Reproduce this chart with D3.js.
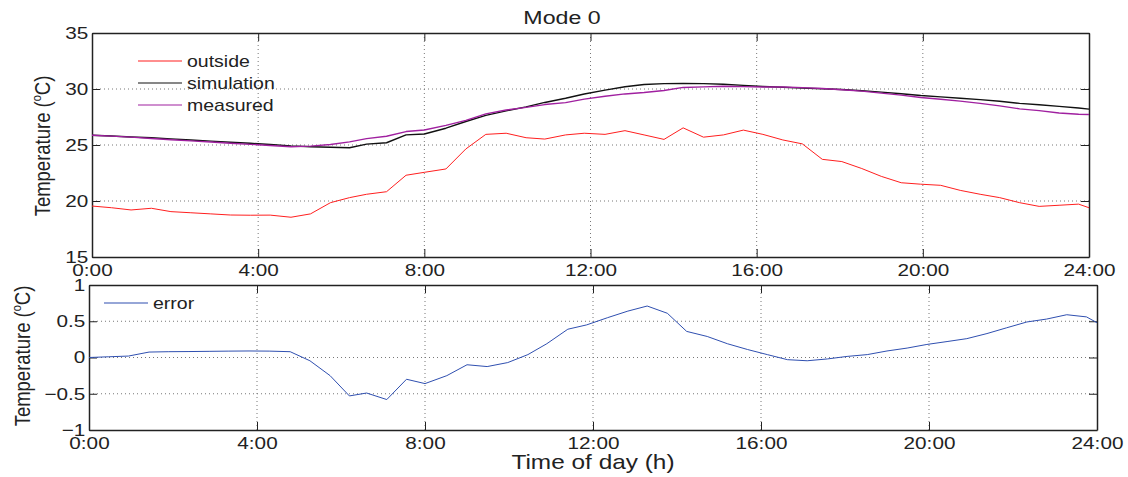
<!DOCTYPE html>
<html>
<head>
<meta charset="utf-8">
<style>
  body { margin: 0; background: #fff; }
  svg { font-family: "Liberation Sans", Arial, sans-serif; }
</style>
</head>
<body>
<svg width="1128" height="477"></svg>
<script src="https://d3js.org/d3.v7.min.js"></script>
<script>

// time of day (h) of each sample
var times = [0, 0.47, 0.94, 1.43, 1.9, 2.38, 2.86, 3.33, 3.81, 4.29,
             4.79, 5.26, 5.74, 6.2, 6.61, 7.09, 7.56, 8.0, 8.52, 9.0,
             9.48, 9.97, 10.45, 10.9, 11.4, 11.85, 12.35, 12.83, 13.29, 13.77,
             14.23, 14.72, 15.2, 15.68, 16.15, 16.63, 17.1, 17.58, 18.05, 18.53,
             19.0, 19.48, 19.95, 20.43, 20.9, 21.38, 21.85, 22.33, 22.8, 23.28,
             23.75, 24.0];

var outside = [19.55, 19.4, 19.2, 19.35, 19.05, 18.95, 18.85, 18.75, 18.73, 18.74,
               18.55, 18.85, 19.85, 20.3, 20.6, 20.83, 22.3, 22.56, 22.86, 24.65,
               25.95, 26.05, 25.65, 25.53, 25.9, 26.05, 25.95, 26.28, 25.9, 25.5,
               26.53, 25.7, 25.9, 26.33, 25.95, 25.45, 25.1, 23.72, 23.52, 22.9,
               22.2, 21.63, 21.5, 21.4, 20.95, 20.6, 20.3, 19.85, 19.52, 19.62,
               19.72, 19.4];

var simulation = [25.87, 25.8, 25.72, 25.65, 25.55, 25.45, 25.35, 25.25, 25.15, 25.05,
                  24.92, 24.85, 24.8, 24.75, 25.08, 25.2, 25.9, 25.98, 26.5, 27.1,
                  27.65, 28.05, 28.4, 28.8, 29.17, 29.55, 29.9, 30.2, 30.4, 30.48,
                  30.5, 30.48, 30.43, 30.32, 30.22, 30.15, 30.08, 30.02, 29.95, 29.85,
                  29.72, 29.58, 29.42, 29.3, 29.18, 29.05, 28.9, 28.72, 28.6, 28.45,
                  28.3, 28.2];

var measured = [25.87, 25.79, 25.7, 25.58, 25.47, 25.37, 25.27, 25.16, 25.06, 24.96,
                24.84, 24.9, 25.05, 25.28, 25.57, 25.78, 26.2, 26.34, 26.75, 27.2,
                27.78, 28.12, 28.36, 28.61, 28.78, 29.1, 29.35, 29.56, 29.69, 29.87,
                30.14, 30.19, 30.24, 30.21, 30.18, 30.18, 30.12, 30.04, 29.93, 29.81,
                29.63, 29.45, 29.24, 29.08, 28.92, 28.72, 28.49, 28.23, 28.07, 27.86,
                27.74, 27.72];

var error = [0.0, 0.01, 0.02, 0.075, 0.08, 0.082, 0.085, 0.088, 0.09, 0.088,
             0.08, -0.045, -0.25, -0.53, -0.49, -0.58, -0.3, -0.36, -0.25, -0.1,
             -0.125, -0.07, 0.04, 0.19, 0.39, 0.45, 0.55, 0.64, 0.71, 0.61,
             0.36, 0.29, 0.19, 0.11, 0.04, -0.03, -0.045, -0.02, 0.015, 0.04,
             0.09, 0.13, 0.18, 0.22, 0.26, 0.33, 0.41, 0.49, 0.53, 0.59,
             0.56, 0.48];

var hourTicks = [0, 4, 8, 12, 16, 20, 24];
var topYTicks = [15, 20, 25, 30, 35];
var botYTicks = [-1, -0.5, 0, 0.5, 1];

var svg = d3.select("svg");
var SX = 1.22;   // the original figure's text is a bit wide

function fmtHour(h) { return h + ":00"; }
function fmtNum(v) { return v < 0 ? "\u2212" + Math.abs(v) : String(v); }

function label(x, y, size, str, anchor) {
    return svg.append("text")
        .attr("transform", "translate(" + x + "," + y + ") scale(" + SX + ",1)")
        .attr("text-anchor", anchor || "middle")
        .attr("font-size", size).attr("fill", "#222").text(str);
}

function panel(box, yDomain, yTicks) {
    var g = svg.append("g").attr("transform", "translate(" + box.left + "," + box.top + ")");
    var x = d3.scaleLinear().domain([0, 24]).range([0, box.width]);
    var y = d3.scaleLinear().domain(yDomain).range([box.height, 0]);

    // dotted grid
    g.append("g").selectAll("line").data(hourTicks.slice(1, -1)).enter().append("line")
        .attr("x1", x).attr("x2", x).attr("y1", 0).attr("y2", box.height)
        .attr("stroke", "#777").attr("stroke-width", 1).attr("stroke-dasharray", "1,3");
    g.append("g").selectAll("line").data(yTicks.slice(1, -1)).enter().append("line")
        .attr("y1", y).attr("y2", y).attr("x1", 0).attr("x2", box.width)
        .attr("stroke", "#777").attr("stroke-width", 1).attr("stroke-dasharray", "1,3");

    // axes with inward ticks (matlab style)
    var tl = 8;
    g.append("g").attr("transform", "translate(0," + box.height + ")")
        .call(d3.axisBottom(x).tickValues(hourTicks).tickFormat(fmtHour).tickSizeInner(-tl).tickSizeOuter(0).tickPadding(7));
    g.append("g")
        .call(d3.axisTop(x).tickValues(hourTicks).tickFormat("").tickSizeInner(-tl).tickSizeOuter(0));
    g.append("g")
        .call(d3.axisLeft(y).tickValues(yTicks).tickFormat(fmtNum).tickSizeInner(-tl).tickSizeOuter(0).tickPadding(3));
    g.append("g").attr("transform", "translate(" + box.width + ",0)")
        .call(d3.axisRight(y).tickValues(yTicks).tickFormat("").tickSizeInner(-tl).tickSizeOuter(0));

    g.selectAll(".domain").attr("stroke", "#222").attr("stroke-width", 1.5);
    g.selectAll(".tick line").attr("stroke", "#222");
    g.selectAll(".tick text").attr("font-size", 17).attr("fill", "#222")
        .attr("transform", "scale(" + SX + ",1)")
        .attr("font-family", "'Liberation Sans', Arial, sans-serif");

    return { g: g, x: x, y: y, box: box };
}

function drawLine(p, vals, color, w) {
    var line = d3.line()
        .x(function(d, i) { return p.x(times[i]); })
        .y(function(d) { return p.y(d); });
    p.g.append("path").datum(vals)
        .attr("fill", "none").attr("stroke", color).attr("stroke-width", w)
        .attr("stroke-linejoin", "round").attr("d", line);
}

function legend(p, items, x0, y0, dy) {
    items.forEach(function(it, i) {
        var yy = y0 + i * dy;
        p.g.append("line").attr("x1", x0).attr("x2", x0 + 44).attr("y1", yy).attr("y2", yy)
            .attr("stroke", it.color).attr("stroke-width", 1.2);
        label(p.box.left + x0 + 49, p.box.top + yy + 6, 16, it.name, "start");
    });
}

// top panel
var topPanel = panel({ left: 92, top: 33, width: 997, height: 224 }, [15, 35], topYTicks);
drawLine(topPanel, outside, "#ff1f1f", 1);
drawLine(topPanel, simulation, "#111", 1.4);
drawLine(topPanel, measured, "#a020a0", 1.4);
legend(topPanel, [
    { name: "outside", color: "#ff1f1f" },
    { name: "simulation", color: "#111" },
    { name: "measured", color: "#a020a0" }
], 46, 28, 22);

// bottom panel
var botPanel = panel({ left: 89, top: 285, width: 1008, height: 145 }, [-1, 1], botYTicks);
drawLine(botPanel, error, "#2f4fb0", 1);
legend(botPanel, [{ name: "error", color: "#2f4fb0" }], 15, 18, 20);

// titles and axis labels
label(562, 24, 19, "Mode 0");
label(593, 469, 20, "Time of day (h)");

function yLabel(cx, cy) {
    var t = svg.append("text")
        .attr("transform", "translate(" + cx + "," + cy + ") rotate(-90) scale(1," + SX + ")")
        .attr("text-anchor", "middle").attr("font-size", 18.5).attr("fill", "#222");
    t.append("tspan").text("Temperature (");
    t.append("tspan").attr("font-size", 11).attr("dy", -7).text("o");
    t.append("tspan").attr("dy", 7).text("C)");
}
yLabel(50, 146);
yLabel(30, 356);

</script>
</body>
</html>
